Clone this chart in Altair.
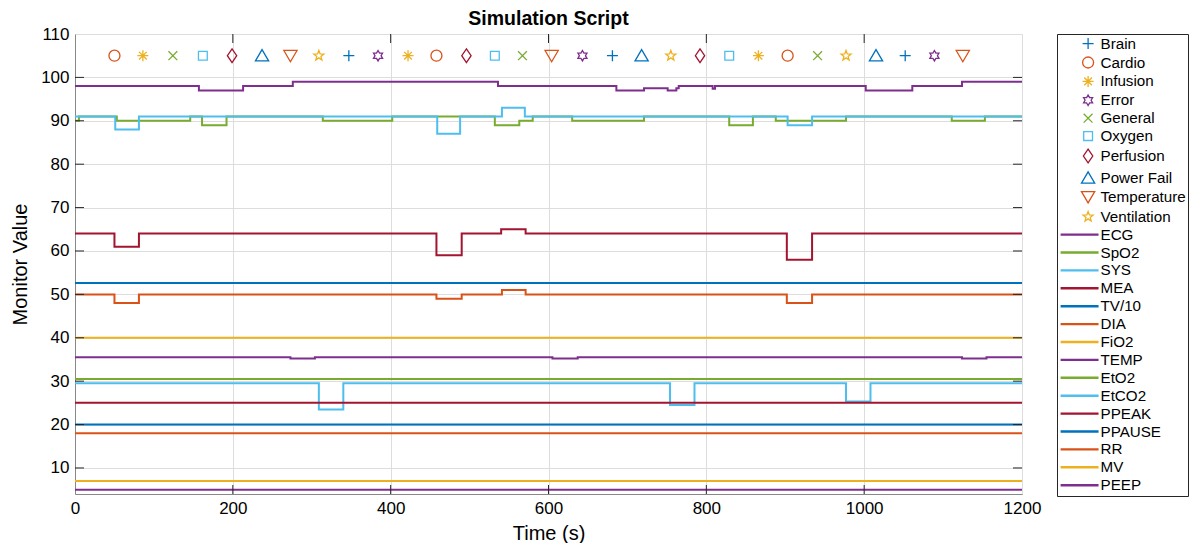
import math
import altair as alt
import pandas as pd

FONT = "Liberation Sans"

# ---------------- data ----------------
EVENT_TIMES = [50, 86, 124, 162, 199, 237, 273, 309, 347, 384, 422, 458, 496, 532, 567,
               604, 643, 681, 718, 755, 792, 829, 866, 903, 941, 977, 1015, 1052, 1089, 1125]
EVENT_NAMES = ["Cardio", "Infusion", "General", "Oxygen", "Perfusion", "Power Fail", "Temperature",
               "Ventilation", "Brain", "Error", "Infusion", "Cardio", "Perfusion", "Oxygen", "General",
               "Temperature", "Error", "Brain", "Power Fail", "Ventilation", "Perfusion", "Oxygen",
               "Infusion", "Cardio", "General", "Ventilation", "Power Fail", "Brain", "Error", "Temperature"]
EVENT_LEVEL = 105

EVENT_TYPES = ["Brain", "Cardio", "Infusion", "Error", "General", "Oxygen", "Perfusion",
               "Power Fail", "Temperature", "Ventilation"]
SERIES = ["ECG", "SpO2", "SYS", "MEA", "TV/10", "DIA", "FiO2", "TEMP", "EtO2", "EtCO2",
          "PPEAK", "PPAUSE", "RR", "MV", "PEEP"]

ECG_T = [0, 157, 213, 276, 536, 686, 721, 751, 762, 765, 808, 811, 1002, 1061, 1124]
ECG_V = [98, 97, 98, 99, 98, 97, 97.5, 97, 97.5, 98, 97.4, 98, 97, 98, 99]
SPO2_T = [0, 5, 53, 146, 161, 192, 314, 402, 532, 563, 580, 630, 721, 829, 859, 888, 977, 1111, 1153]
SPO2_V = [90, 91, 90, 91, 89, 91, 90, 91, 89, 90, 91, 90, 91, 89, 91, 90, 91, 90, 91]
SYS_T = [0, 51, 81, 459, 488, 541, 570, 903, 934]
SYS_V = [91, 88, 91, 87, 91, 93, 91, 89, 91]
MEA_T = [0, 50, 81, 458, 490, 540, 571, 902, 934]
MEA_V = [64, 61, 64, 59, 64, 65, 64, 58, 64]
TV_T = [0]
TV_V = [52.6]
DIA_T = [0, 50, 81, 458, 490, 541, 571, 902, 934]
DIA_V = [50, 48, 50, 49, 50, 51, 50, 48, 50]
FIO2_T = [0]
FIO2_V = [40]
TEMP_T = [0, 273, 304, 605, 637, 1124, 1155]
TEMP_V = [35.5, 35.2, 35.5, 35.2, 35.5, 35.2, 35.5]
ETO2_T = [0]
ETO2_V = [30.5]
ETCO2_T = [0, 309, 340, 754, 785, 977, 1008]
ETCO2_V = [29.5, 23.5, 29.5, 24.5, 29.5, 25.3, 29.5]
PPEAK_T = [0]
PPEAK_V = [25]
PPAUSE_T = [0]
PPAUSE_V = [20]
RR_T = [0]
RR_V = [18]
MV_T = [0]
MV_V = [7]
PEEP_T = [0]
PEEP_V = [5]
T_END = 1200

X_TICKS = [0, 200, 400, 600, 800, 1000, 1200]
Y_TICKS = [10, 20, 30, 40, 50, 60, 70, 80, 90, 100, 110]

# ---------------- styling ----------------
BLUE, ORANGE, YELLOW, PURPLE = "#0072BD", "#D95319", "#EDB120", "#7E2F8E"
GREEN, CYAN, RED = "#77AC30", "#4DBEEE", "#A2142F"
EVENT_COLORS = [BLUE, ORANGE, YELLOW, PURPLE, GREEN, CYAN, RED, BLUE, ORANGE, YELLOW]
SERIES_COLORS = [PURPLE, GREEN, CYAN, RED, BLUE, ORANGE, YELLOW, PURPLE, GREEN, CYAN,
                 RED, BLUE, ORANGE, YELLOW, PURPLE]


def star(n, outer, inner):
    pts = []
    for k in range(2 * n):
        r = outer if k % 2 == 0 else inner
        a = math.pi * k / n - math.pi / 2
        pts.append(f"{r * math.cos(a):.3f},{r * math.sin(a):.3f}")
    return "M" + "L".join(pts) + "Z"


EVENT_SHAPES = [
    "M-1,0L1,0M0,-1L0,1",                                           # plus
    "circle",                                                       # circle
    "M-1,0L1,0M0,-1L0,1M-0.7,-0.7L0.7,0.7M-0.7,0.7L0.7,-0.7",       # asterisk
    star(6, 0.95, 0.55),                                            # hexagram
    "M-0.8,-0.8L0.8,0.8M-0.8,0.8L0.8,-0.8",                         # x
    "M-0.8,-0.8L0.8,-0.8L0.8,0.8L-0.8,0.8Z",                        # square
    "M0,-1.25L0.85,0L0,1.25L-0.85,0Z",                              # diamond
    "M0,-1.1L1.2,0.95L-1.2,0.95Z",                                  # triangle up
    "M0,1.1L1.2,-0.95L-1.2,-0.95Z",                                 # triangle down
    star(5, 0.95, 0.4),                                             # pentagram
]
LINE_SYMBOL = "M-5.0,-0.1L1.9,-0.1M-5.0,0.1L1.9,0.1"

ALL_NAMES = EVENT_TYPES + SERIES
ALL_COLORS = EVENT_COLORS + SERIES_COLORS
ALL_SHAPES = EVENT_SHAPES + [LINE_SYMBOL] * len(SERIES)

# ---------------- tables ----------------
events = pd.DataFrame({"t": EVENT_TIMES, "name": EVENT_NAMES, "v": [EVENT_LEVEL] * len(EVENT_TIMES)})

series_data = [
    (ECG_T, ECG_V), (SPO2_T, SPO2_V), (SYS_T, SYS_V), (MEA_T, MEA_V), (TV_T, TV_V),
    (DIA_T, DIA_V), (FIO2_T, FIO2_V), (TEMP_T, TEMP_V), (ETO2_T, ETO2_V), (ETCO2_T, ETCO2_V),
    (PPEAK_T, PPEAK_V), (PPAUSE_T, PPAUSE_V), (RR_T, RR_V), (MV_T, MV_V), (PEEP_T, PEEP_V),
]
rows = []
for order, (name, (ts, vs)) in enumerate(zip(SERIES, series_data)):
    for t, v in zip(ts + [T_END], vs + [vs[-1]]):
        rows.append({"t": t, "v": v, "name": name, "order": order})
lines_df = pd.DataFrame(rows)

xt = pd.DataFrame({"t": X_TICKS[1:-1]})
yt = pd.DataFrame({"v": Y_TICKS[:-1]})

W, H = 947, 460

x_scale = alt.Scale(domain=[0, 1200], nice=False, zero=False)
y_scale = alt.Scale(domain=[4, 110], nice=False, zero=False)

legend = alt.Legend(
    title=None, orient="none", legendX=W + 35, legendY=0, padding=2,
    strokeColor="#262626", fillColor="white",
    labelFont=FONT, labelFontSize=15.2, labelColor="#000000",
    symbolSize=121, symbolStrokeWidth=1.3, symbolOffset=21.5, labelOffset=4.8,
    rowPadding=1.9, symbolFillColor="transparent",
)
color_scale = alt.Scale(domain=ALL_NAMES, range=ALL_COLORS)
shape_scale = alt.Scale(domain=ALL_NAMES, range=ALL_SHAPES)

x_axis = alt.Axis(values=X_TICKS, format="d", title="Time (s)", grid=True, ticks=False,
                  labelFlush=False, labelFontSize=17, titleFontSize=20, titleFontWeight="normal",
                  labelPadding=6, titlePadding=7)
y_axis = alt.Axis(values=Y_TICKS, format="d", title="Monitor Value", grid=True, ticks=False,
                  labelFontSize=17, titleFontSize=20, titleFontWeight="normal",
                  labelPadding=6, titlePadding=10)

points = alt.Chart(events).mark_point(filled=False, size=121, strokeWidth=1.3, opacity=1).encode(
    x=alt.X("t:Q", scale=x_scale, axis=x_axis),
    y=alt.Y("v:Q", scale=y_scale, axis=y_axis),
    color=alt.Color("name:N", scale=color_scale, legend=legend),
    shape=alt.Shape("name:N", scale=shape_scale, legend=legend),
)

lines = alt.Chart(lines_df).mark_line(interpolate="step-after", strokeWidth=2).encode(
    x=alt.X("t:Q", scale=x_scale),
    y=alt.Y("v:Q", scale=y_scale),
    color=alt.Color("name:N", scale=color_scale, legend=legend),
    detail="order:O",
    order="t:Q",
)

TICK_COLOR = "#262626"
TL = 9
bottom_ticks = alt.Chart(xt).mark_rule(color=TICK_COLOR, strokeWidth=1).encode(
    x="t:Q", y=alt.value(H), y2=alt.value(H - TL))
top_ticks = alt.Chart(xt).mark_rule(color=TICK_COLOR, strokeWidth=1).encode(
    x="t:Q", y=alt.value(0), y2=alt.value(TL))
left_ticks = alt.Chart(yt).mark_rule(color=TICK_COLOR, strokeWidth=1).encode(
    y="v:Q", x=alt.value(0), x2=alt.value(TL))
right_ticks = alt.Chart(yt).mark_rule(color=TICK_COLOR, strokeWidth=1).encode(
    y="v:Q", x=alt.value(W - TL), x2=alt.value(W))

chart = alt.layer(points, lines, bottom_ticks, top_ticks, left_ticks, right_ticks).properties(
    width=W, height=H,
    title=alt.TitleParams("Simulation Script", font=FONT, fontSize=19.5, fontWeight="bold",
                          color="#000000", offset=-4.5, frame="group"),
    padding={"left": 2, "top": 1, "right": 0, "bottom": 0},
).configure_view(
    stroke="#7a7a7a", strokeWidth=1,
).configure_axis(
    labelFont=FONT, titleFont=FONT, labelColor="#262626", titleColor="#262626",
    domainColor="#262626", domainWidth=1,
    gridColor="#dfdfdf", gridWidth=1,
).configure(background="white")

chart.save("out.html", embed_options={"renderer": "svg", "actions": False})
